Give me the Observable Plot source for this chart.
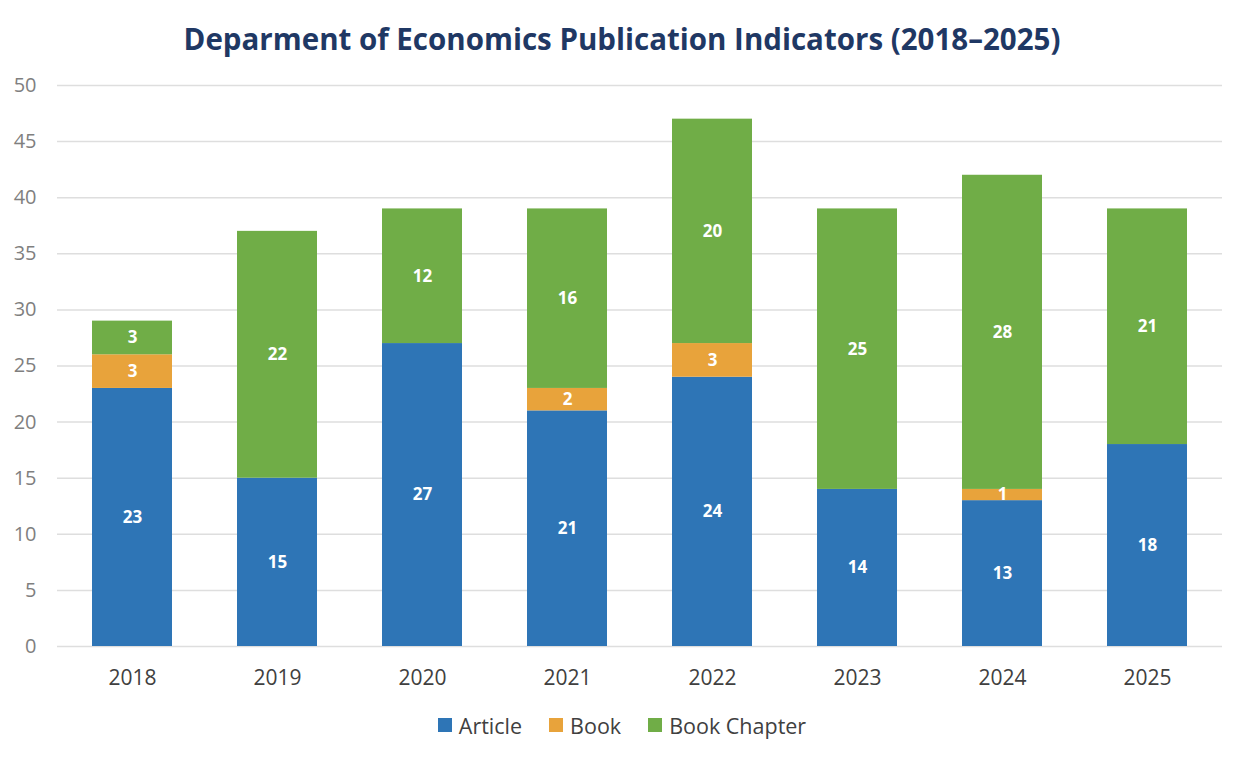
<!DOCTYPE html>
<html>
<head>
<meta charset="utf-8">
<script src="https://cdn.jsdelivr.net/npm/d3@7"></script>
<script src="https://cdn.jsdelivr.net/npm/@observablehq/plot@0.6"></script>
<style>
  body { margin: 0; background: #fff; font-family: "Open Sans", sans-serif; width: 1244px; }
  #title { height: 70px; line-height: 78px; text-align: center; font-size: 29.5px; font-weight: 700; color: #1f3864; }
  #legend { display: flex; justify-content: center; align-items: center; gap: 27px; font-size: 21.5px; color: #404040; height: 50px; margin-top: 0px; }
  #legend .item { display: flex; align-items: center; gap: 7px; }
  #legend .sw { width: 14px; height: 14px; display: inline-block; }
</style>
</head>
<body>
<div id="title">Deparment of Economics Publication Indicators (2018–2025)</div>
<div id="chart"></div>
<div id="legend"></div>
<script>
const years = ["2018", "2019", "2020", "2021", "2022", "2023", "2024", "2025"];
const series = ["Article", "Book", "Book Chapter"];
const colors = ["#2e75b6", "#e8a33b", "#70ad47"];
const article = [23, 15, 27, 21, 24, 14, 13, 18];
const book = [3, 0, 0, 2, 3, 0, 1, 0];
const chapter = [3, 22, 12, 16, 20, 25, 28, 21];
const yTicks = [0, 5, 10, 15, 20, 25, 30, 35, 40, 45, 50];

const values = [article, book, chapter];
const data = [];
series.forEach((s, i) => years.forEach((y, j) => data.push({year: y, type: s, value: values[i][j]})));
const nonzero = data.filter(d => d.value > 0);

const plot = Plot.plot({
  width: 1244,
  height: 630,
  marginLeft: 57,
  marginRight: 22,
  marginTop: 15,
  marginBottom: 54,
  style: {fontFamily: "Open Sans, sans-serif", fontSize: "20px", background: "#fff"},
  x: {domain: years, paddingInner: 0.45, paddingOuter: 0.225, label: null},
  y: {domain: [0, 50], ticks: yTicks, label: null},
  color: {domain: series, range: colors},
  marks: [
    Plot.ruleY(yTicks, {stroke: "#dedede", strokeWidth: 1.5}),
    Plot.barY(nonzero, Plot.stackY({x: "year", y: "value", fill: "type"})),
    Plot.text(nonzero, Plot.stackY({x: "year", y: "value", text: d => String(d.value), fill: "white", fontWeight: 700, fontSize: 17})),
    Plot.axisX({tickSize: 0, tickPadding: 24, fill: "#404040", fontSize: 21}),
    Plot.axisY({ticks: yTicks, tickSize: 0, tickPadding: 21, fill: "#7f7f7f", fontSize: 20})
  ]
});
document.getElementById("chart").appendChild(plot);

const legend = document.getElementById("legend");
series.forEach((s, i) => {
  const it = document.createElement("div");
  it.className = "item";
  it.innerHTML = `<span class="sw" style="background:${colors[i]}"></span><span>${s}</span>`;
  legend.appendChild(it);
});
</script>
</body>
</html>
